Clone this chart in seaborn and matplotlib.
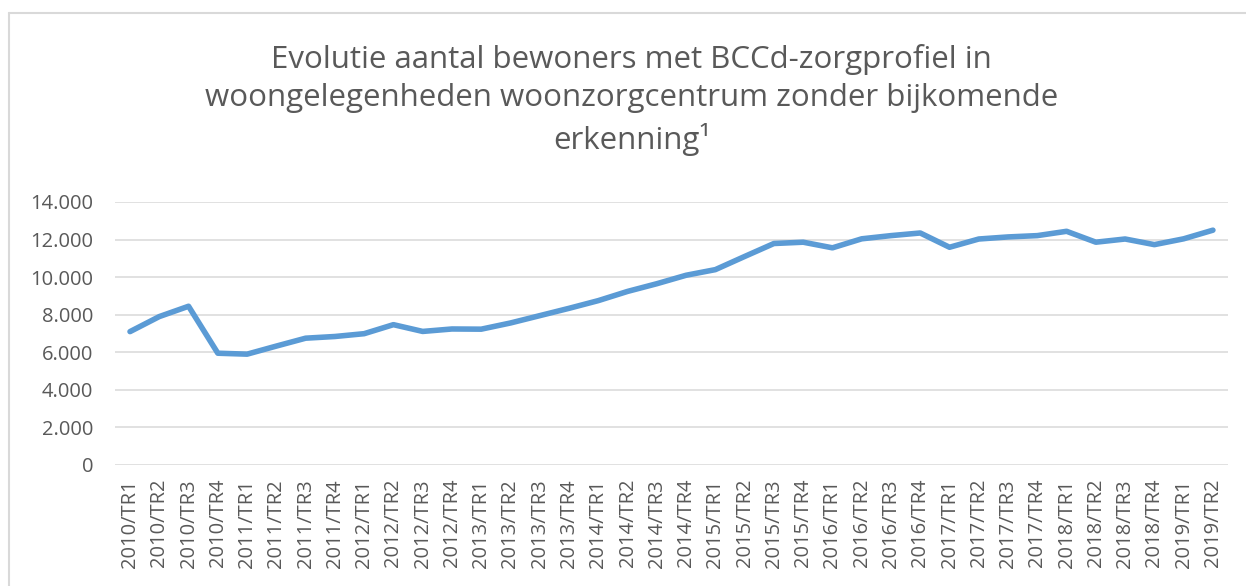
import matplotlib
matplotlib.use("Agg")
import matplotlib.pyplot as plt
import matplotlib.ticker as mticker
import pandas as pd
import seaborn as sns

# kwartalen 2010/TR1 .. 2019/TR2
kwartalen = [f"{j}/TR{q}" for j in range(2010, 2020) for q in range(1, 5)][:38]

bewoners = [
    7100, 7900, 8450, 5950, 5900, 6330, 6750, 6840, 6990, 7470,
    7110, 7240, 7230, 7560, 7950, 8340, 8750, 9240, 9650, 10100,
    10400, 11100, 11790, 11860, 11560, 12040, 12210, 12350, 11590, 12030,
    12140, 12210, 12440, 11860, 12030, 11730, 12040, 12500,
]

titel = ("Evolutie aantal bewoners met BCCd-zorgprofiel in\n"
         "woongelegenheden woonzorgcentrum zonder bijkomende\n"
         "erkenning\u00b9")

sns.set_theme(style="white")
plt.rcParams["font.family"] = ["Open Sans", "DejaVu Sans"]

grijs = "#595959"
lijn = "#D9D9D9"

df = pd.DataFrame({"kwartaal": kwartalen, "bewoners": bewoners})

fig = plt.figure(figsize=(12.46, 5.86), dpi=100)
ax = fig.add_axes([0.0926, 0.2065, 0.8926, 0.4488])

sns.lineplot(data=df, x="kwartaal", y="bewoners", ax=ax,
             color="#5B9BD5", linewidth=4, sort=False)

ax.set_ylim(0, 14000)
ax.set_xlim(-0.5, len(kwartalen) - 0.5)
ax.yaxis.set_major_locator(mticker.MultipleLocator(2000))
ax.yaxis.set_major_formatter(
    mticker.FuncFormatter(lambda v, p: f"{int(v):,}".replace(",", ".")))
ax.grid(axis="y", color=lijn, linewidth=1.1)
ax.grid(axis="x", visible=False)
ax.set_axisbelow(True)
for s in ax.spines.values():
    s.set_visible(False)

ax.set_xlabel("")
ax.set_ylabel("")
ax.tick_params(axis="y", length=0, labelsize=14.5, labelcolor=grijs, pad=16)
ax.tick_params(axis="x", length=0, labelsize=14.5, labelcolor=grijs, pad=10)
plt.setp(ax.get_xticklabels(), rotation=90)

fig.text(0.507, 0.925, titel, ha="center", va="top", fontsize=22.5,
         color=grijs, linespacing=1.36)

# rand van het grafiekgebied (alleen boven en links zichtbaar)
fig.add_artist(plt.Line2D([9 / 1246, 1], [1 - 13 / 586] * 2,
                          color=lijn, linewidth=1.5))
fig.add_artist(plt.Line2D([9 / 1246] * 2, [0, 1 - 13 / 586],
                          color=lijn, linewidth=1.5))

fig.savefig("out.png", dpi=100)
